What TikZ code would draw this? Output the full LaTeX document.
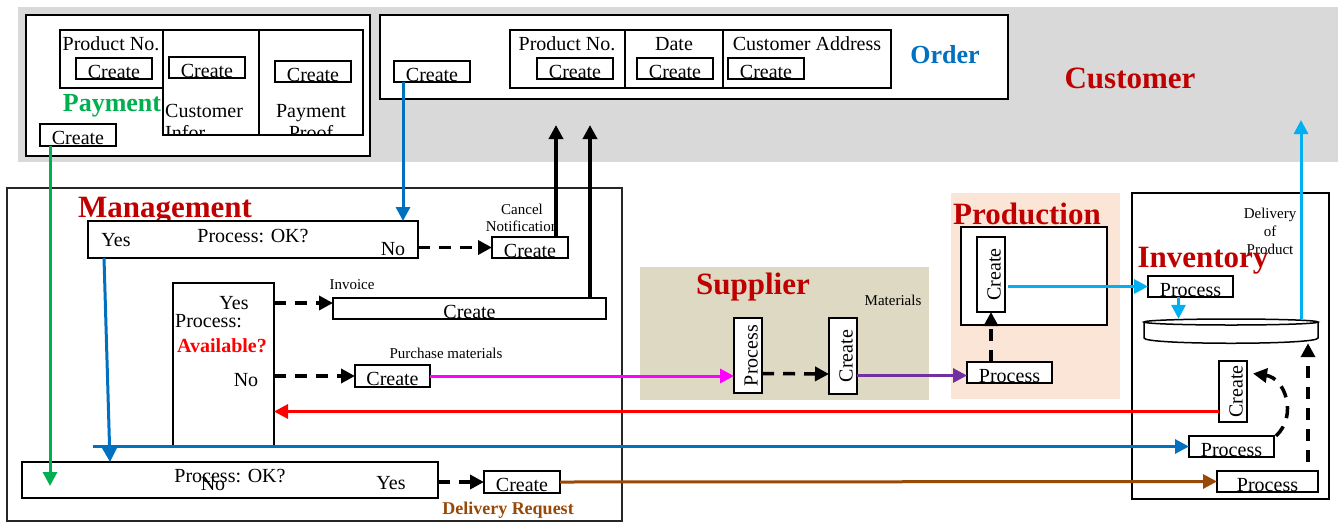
\documentclass[tikz,border=0pt]{standalone}
\usepackage{fontspec}
\setmainfont{Liberation Serif}
\usetikzlibrary{arrows.meta}

\definecolor{custgray}{HTML}{D9D9D9}
\definecolor{supfill}{HTML}{DDD9C3}
\definecolor{prodfill}{HTML}{FBE5D6}
\definecolor{titlered}{HTML}{C00000}
\definecolor{paygreen}{HTML}{00B050}
\definecolor{ordblue}{HTML}{0070C0}
\definecolor{skyblue}{HTML}{00B0F0}
\definecolor{matpink}{HTML}{FF00FF}
\definecolor{matpurple}{HTML}{7030A0}
\definecolor{delbrown}{HTML}{984807}

\newcommand{\upright}[1]{\rotatebox{90}{\raisebox{0pt}[19pt][0pt]{#1}}}

\tikzset{
  framed/.style={draw,line width=2pt,fill=white,inner sep=0pt,outer sep=0pt,anchor=north west,font=\fontsize{20}{22}\selectfont},
  box/.style={framed,text height=19pt,text depth=0pt},
  createbox/.style={box,minimum width=76pt,minimum height=21pt},
  procbox/.style={box,minimum width=85pt,minimum height=21pt},
  vbox/.style={framed,minimum width=28pt},
  txt/.style={inner sep=0pt,font=\fontsize{20}{22}\selectfont},
  smalltxt/.style={inner sep=0pt,align=center,font=\fontsize{15}{17}\selectfont},
  lanetitle/.style={inner sep=0pt,text=titlered,font=\bfseries\fontsize{31}{34}\selectfont},
  flow/.style={line width=3pt,-{Triangle[length=14pt,width=14pt]}},
  dflow/.style={flow,black,line width=3.5pt,dash pattern=on 12pt off 9pt}
}

\begin{document}
\begin{tikzpicture}[x=1pt,y=-1pt]
\useasboundingbox (0,0) rectangle (1338,523);

% customer lane
\fill[custgray] (18,7) rectangle (1338,162);
\node[lanetitle] (customer) at (1130,78) {Customer};

% payment
\node[box,minimum width=344pt,minimum height=141pt] (payment) at (26,15) {};
\node[box,minimum width=103pt,minimum height=58pt] (payprod) at (60,30) {};
\node[box,minimum width=96pt,minimum height=105pt] (payinfo) at (163,30) {};
\node[box,minimum width=104pt,minimum height=105pt] (payproof) at (259,30) {};
\node[txt] at (111,44) {Product No.};
\begin{scope}
\clip (payinfo.north west) rectangle (payinfo.south east);
\node[txt,anchor=north west,align=left] at (165,104) {Customer\\Infor};
\end{scope}
\begin{scope}
\clip (payproof.north west) rectangle (payproof.south east);
\node[txt,anchor=north,align=center] at (311,104) {Payment\\Proof};
\end{scope}
\node[createbox] (payprodc) at (76,58) {Create};
\node[createbox] (payinfoc) at (169,57) {Create};
\node[createbox] (payproofc) at (275,61) {Create};
\node[inner sep=0pt,text=paygreen,font=\bfseries\fontsize{26}{28}\selectfont] at (112,106) {Payment};
\node[createbox,minimum height=22pt] (paycreate) at (40,124) {Create};

% order
\node[box,minimum width=628pt,minimum height=84pt] (order) at (380,15) {};
\node[createbox] (ordcreate) at (394,61) {Create};
\node[box,minimum width=115pt,minimum height=58pt] (ordprod) at (510,30) {};
\node[box,minimum width=98pt,minimum height=58pt] (orddate) at (625,30) {};
\node[box,minimum width=168pt,minimum height=58pt] (ordaddr) at (723,30) {};
\node[txt] at (567,44) {Product No.};
\node[txt] at (674,44) {Date};
\node[txt] at (807,44) {Customer Address};
\node[createbox] (ordprodc) at (537,58) {Create};
\node[createbox] (orddatec) at (637,58) {Create};
\node[createbox] (ordaddrc) at (728,58) {Create};
\node[inner sep=0pt,text=ordblue,font=\bfseries\fontsize{26}{28}\selectfont] at (945,55) {Order};

% management
\node[box,fill=none,draw=black!85,line width=1.5pt,minimum width=615pt,minimum height=333pt] (management) at (7,188) {};
\node[lanetitle] at (165,211) {Management};
\node[box,minimum width=330pt,minimum height=37pt] (ok1) at (88,221) {};
\node[txt] (ok1yes) at (116,240) {Yes};
\node[txt] at (253,236) {Process: OK?};
\node[txt] (ok1no) at (393,249) {No};
\node[smalltxt] at (522,218) {Cancel\\Notification};
\node[createbox] (cancel) at (492,237) {Create};
\node[smalltxt] at (352,285) {Invoice};
\node[createbox,minimum width=273pt] (invoice) at (333,298) {Create};
\node[box,minimum width=101pt,minimum height=163pt] (avail) at (173,283) {};
\node[txt] (availyes) at (234,303) {Yes};
\node[txt,anchor=west] at (175,321) {Process:};
\node[inner sep=0pt,text=red,font=\bfseries\fontsize{20}{22}\selectfont] at (222,346) {Available?};
\node[txt] (availno) at (246,380) {No};
\node[smalltxt] at (446,353) {Purchase materials};
\node[createbox,minimum width=75pt,minimum height=22pt] (purchase) at (355,365) {Create};
\node[box,minimum width=416pt,minimum height=36pt] (ok2) at (22,462) {};
\node[txt] at (230,476) {Process: OK?};
\node[txt] at (213,484) {No};
\node[txt] at (391,483) {Yes};
\node[createbox,minimum height=22pt] (delivery) at (484,471) {Create};
\node[inner sep=0pt,text=delbrown,font=\bfseries\fontsize{18}{20}\selectfont] at (508,510) {Delivery Request};

% supplier
\fill[supfill] (640,267) rectangle (929,400);
\node[lanetitle] at (753,287) {Supplier};
\node[smalltxt] at (893,300) {Materials};
\node[vbox,minimum height=75pt] (supproc) at (734,318) {\upright{Process}};
\node[vbox,minimum height=76pt] (supcreate) at (829,318) {\upright{Create}};

% production
\fill[prodfill] (951,193) rectangle (1120,399);
\node[lanetitle] at (1027,214) {Production};
\node[box,minimum width=146pt,minimum height=98pt] (prodbox) at (961,227) {};
\node[vbox,minimum height=75pt] (prodcreate) at (977,237) {\upright{Create}};
\node[procbox] (prodproc) at (967,362) {Process};

% inventory
\node[box,minimum width=197pt,minimum height=306pt] (inventory) at (1132,193) {};
\node[smalltxt,font=\fontsize{15}{18}\selectfont] at (1270,231) {Delivery\\of\\Product};
\node[lanetitle] at (1203,261) {Inventory};
\node[procbox] (invproc1) at (1148,276) {Process};
\node[inner sep=0pt,minimum width=174pt,minimum height=24pt] (cyl) at (1231,331) {};
\draw[line width=1.5pt,fill=white] (1144,322) -- (1144,338) .. controls (1144,345) and (1318,345) .. (1318,338) -- (1318,322);
\draw[line width=1.5pt,fill=white] (1231,322) ellipse [x radius=87pt,y radius=3pt];
\node[vbox,minimum height=61pt] (invcreate) at (1219,361) {\upright{Create}};
\node[procbox] (invproc2) at (1189,436) {Process};
\node[procbox,minimum width=101pt] (invproc3) at (1217,471) {Process};

% loose ends
\coordinate (ordtip1) at (556,125);
\coordinate (ordtip2) at (590,125);
\coordinate (custtip) at (1301,120);
\coordinate (bluestart) at (93,445);
\coordinate (redstart) at ([yshift=-20pt]invcreate.west);

% connectors
\draw[flow,paygreen] ([xshift=10pt]paycreate.south west) -- ([xshift=10pt,yshift=-6pt]paycreate.south west |- ok2.center);
\draw[flow,ordblue] ([xshift=9pt]ordcreate.south west) -- ([xshift=9pt]ordcreate.south west |- ok1.north);
\draw[dflow] (ok1.east |- cancel.west) -- (cancel.west);
\draw[flow,black,line width=3.5pt] ([xshift=-12pt]cancel.north east) -- (ordtip1);
\draw[flow,black,line width=3.5pt] ([xshift=-16pt]invoice.north east) -- (ordtip2);
\draw[dflow] (avail.east |- availyes) -- (invoice.west |- availyes);
\draw[dflow] (avail.east |- purchase.west) -- (purchase.west);
\draw[flow,matpink] (purchase.east) -- (supproc.west |- purchase.east);
\draw[dflow] ([yshift=-18pt]supproc.east) -- ([yshift=-18pt]supcreate.west);
\draw[flow,matpurple] ([yshift=-3pt]supcreate.east |- prodproc.west) -- ([yshift=-3pt]prodproc.west);
\draw[dflow] (prodcreate.south |- prodproc.north) -- (prodcreate.south);
\draw[flow,skyblue] ([xshift=3pt]prodcreate.east |- invproc1.west) -- (invproc1.west);
\draw[flow,skyblue] ([xshift=-12pt]invproc1.south) -- ([xshift=-12pt]invproc1.south |- cyl.north);
\draw[flow,skyblue] (custtip |- cyl.north) -- (custtip);
\draw[flow,red] (redstart) -- (avail.east |- redstart);
\draw[flow,ordblue] (invproc2.west -| bluestart) -- (invproc2.west);
\draw[flow,ordblue] ([xshift=16pt]ok1.south west) -- ([xshift=88pt]ok2.north west);
\draw[dflow] (ok2.east |- delivery.west) -- (delivery.west);
\draw[flow,delbrown] (delivery.east) -- (invproc3.west);
\draw[dflow] ([xshift=2pt]invproc2.north east) .. controls (1298,415) and (1285,378) .. ([xshift=6pt,yshift=18pt]invcreate.east);
\draw[dflow] ([xshift=-10pt,yshift=9pt]invproc3.north east) -- ([xshift=-10pt]invproc3.north east |- cyl.south);
\end{tikzpicture}
\end{document}
